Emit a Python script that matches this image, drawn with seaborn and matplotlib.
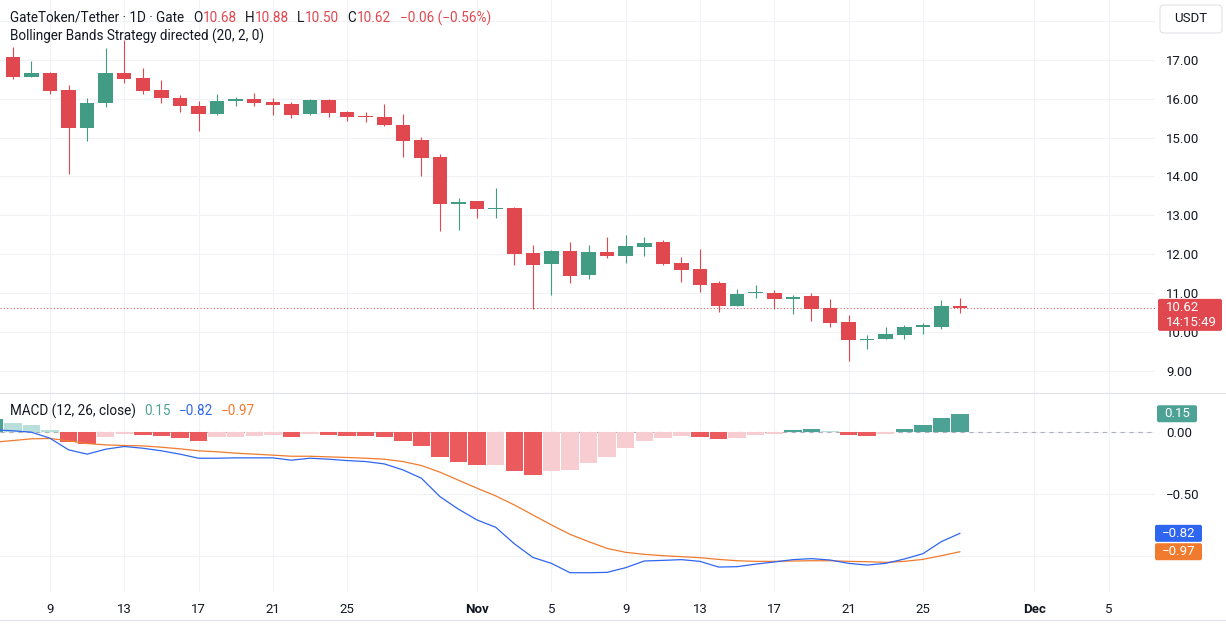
import numpy as np
import pandas as pd
import matplotlib
matplotlib.use("Agg")
import matplotlib.pyplot as plt
import matplotlib.dates as mdates
import matplotlib.transforms as mtransforms
from matplotlib.patches import FancyBboxPatch
from matplotlib.lines import Line2D
from matplotlib.ticker import FuncFormatter
import seaborn as sns

# ---- daily candles GT/USDT, Oct 7 .. Nov 27 ----
candle_dates = pd.date_range("2025-10-07", "2025-11-27", freq="D")
opens = [17.07, 16.57, 16.66, 16.23, 15.26, 15.88, 16.67, 16.53, 16.23, 16.02,
         15.82, 15.61, 15.94, 15.99, 15.92, 15.87, 15.60, 15.97, 15.67, 15.56,
         15.54, 15.33, 14.94, 14.50, 13.29, 13.37, 13.16, 13.18, 12.02, 11.76,
         12.08, 11.46, 12.06, 11.96, 12.19, 12.31, 11.77, 11.62, 11.25, 10.68,
         11.00, 11.01, 10.86, 10.93, 10.61, 10.26, 9.80, 9.81, 9.92, 10.14,
         10.13, 10.68]
highs = [17.34, 16.98, 16.68, 16.36, 16.03, 17.30, 17.52, 16.79, 16.48, 16.10,
         15.94, 16.12, 16.04, 16.16, 16.02, 15.91, 16.00, 16.00, 15.69, 15.67,
         15.87, 15.60, 15.01, 14.57, 13.44, 13.37, 13.71, 13.21, 12.23, 12.11,
         12.32, 12.23, 12.44, 12.50, 12.44, 12.37, 11.92, 12.14, 11.32, 11.10,
         11.21, 11.08, 10.96, 11.00, 10.85, 10.44, 9.91, 10.12, 10.19, 10.22,
         10.82, 10.88]
lows = [16.50, 16.55, 16.12, 14.07, 14.92, 15.78, 16.40, 16.12, 15.88, 15.67,
        15.18, 15.58, 15.82, 15.82, 15.58, 15.51, 15.57, 15.54, 15.44, 15.41,
        15.30, 14.50, 14.02, 12.61, 12.62, 12.92, 12.92, 11.73, 10.60, 10.95,
        11.27, 11.37, 11.91, 11.77, 11.96, 11.73, 11.28, 11.03, 10.52, 10.68,
        10.88, 10.59, 10.45, 10.29, 10.12, 9.25, 9.57, 9.81, 9.83, 9.95,
        10.08, 10.50]
closes = [16.57, 16.66, 16.21, 15.26, 15.89, 16.67, 16.52, 16.21, 16.01, 15.82,
          15.61, 15.94, 16.00, 15.90, 15.85, 15.59, 15.97, 15.63, 15.54, 15.53,
          15.32, 14.92, 14.48, 13.29, 13.35, 13.16, 13.18, 12.00, 11.73, 12.08,
          11.44, 12.06, 11.96, 12.21, 12.30, 11.75, 11.59, 11.21, 10.68, 10.98,
          11.02, 10.86, 10.91, 10.58, 10.24, 9.79, 9.83, 9.94, 10.14, 10.18,
          10.68, 10.62]

# ---- MACD (12, 26, close), Oct 6 .. Nov 27 ----
macd_dates = pd.date_range("2025-10-06", "2025-11-27", freq="D")
macd_line = [0.019, 0.011, 0.000, -0.049, -0.143, -0.178, -0.138, -0.116, -0.130, -0.151,
             -0.178, -0.211, -0.211, -0.208, -0.208, -0.208, -0.227, -0.211, -0.219, -0.230,
             -0.238, -0.257, -0.305, -0.373, -0.522, -0.624, -0.711, -0.770, -0.903, -1.014,
             -1.062, -1.138, -1.138, -1.135, -1.097, -1.043, -1.038, -1.032, -1.046, -1.092,
             -1.089, -1.068, -1.051, -1.032, -1.024, -1.035, -1.062, -1.076, -1.062, -1.027,
             -0.984, -0.886, -0.819]
signal_line = [-0.081, -0.068, -0.054, -0.051, -0.070, -0.092, -0.103, -0.108, -0.111, -0.122,
               -0.135, -0.151, -0.159, -0.170, -0.178, -0.186, -0.195, -0.195, -0.200, -0.205,
               -0.211, -0.219, -0.238, -0.270, -0.324, -0.389, -0.454, -0.516, -0.589, -0.670,
               -0.751, -0.827, -0.886, -0.941, -0.973, -0.989, -1.000, -1.008, -1.016, -1.030,
               -1.041, -1.046, -1.046, -1.043, -1.041, -1.041, -1.046, -1.049, -1.054, -1.046,
               -1.030, -1.000, -0.968]
histogram = [0.105, 0.073, 0.054, 0.016, -0.076, -0.095, -0.041, -0.014, -0.019, -0.035,
             -0.049, -0.068, -0.041, -0.038, -0.032, -0.024, -0.041, -0.016, -0.027, -0.028,
             -0.035, -0.041, -0.068, -0.111, -0.203, -0.243, -0.265, -0.262, -0.314, -0.343,
             -0.311, -0.309, -0.251, -0.200, -0.132, -0.070, -0.046, -0.032, -0.041, -0.059,
             -0.046, -0.027, -0.011, 0.019, 0.024, 0.011, -0.027, -0.029, -0.011, 0.027,
             0.059, 0.114, 0.149]

tick_dates = pd.to_datetime(["2025-10-09", "2025-10-13", "2025-10-17", "2025-10-21",
                             "2025-10-25", "2025-11-01", "2025-11-05", "2025-11-09",
                             "2025-11-13", "2025-11-17", "2025-11-21", "2025-11-25",
                             "2025-12-01", "2025-12-05"])
tick_labels = ["9", "13", "17", "21", "25", "Nov", "5", "9", "13", "17", "21", "25", "Dec", "5"]

# price levels with a label, and levels that keep only a grid line (label hidden behind a tag)
price_ticks = [9, 10, 11, 12, 13, 14, 15, 16, 17]
price_grid_only = [18]
macd_ticks = [-0.5, 0.0]
macd_grid_only = [-1.0]

UP = "#429B83"
DOWN = "#E0474F"
H_UP, H_UP_FADE = "#4DA296", "#B9DFDA"
H_DN, H_DN_FADE = "#EB5A5C", "#F7CDD1"
BLUE = "#2F66F0"
ORANGE = "#F07B2E"
TEXT = "#131722"
GRID = "#F0F2F6"

sns.set_theme(style="white")
plt.rcParams["font.family"] = ["Roboto", "DejaVu Sans"]

W, H = 1226, 624
fig = plt.figure(figsize=(W / 100, H / 100), dpi=100)
fig.patch.set_facecolor("white")
PX = mtransforms.Affine2D().scale(1 / W, -1 / H).translate(0, 1) + fig.transFigure

PANE_R, PRICE_BOT, MACD_BOT = 1155, 393, 592
ax_p = fig.add_axes([0, 1 - PRICE_BOT / H, PANE_R / W, PRICE_BOT / H])
ax_m = fig.add_axes([0, 1 - MACD_BOT / H, PANE_R / W, (MACD_BOT - PRICE_BOT) / H], sharex=ax_p)

# ---- candles ----
cx = mdates.date2num(candle_dates)
o, hi, lo, c = map(np.array, (opens, highs, lows, closes))
ccol = np.where(c >= o, UP, DOWN)
ax_p.vlines(cx, lo, hi, colors=ccol, lw=0.8, zorder=3)
ax_p.bar(cx, np.maximum(np.abs(c - o), 0.03), bottom=np.minimum(o, c),
         width=0.78, color=ccol, linewidth=0, zorder=4)
ax_p.axhline(c[-1], color=DOWN, lw=0.8, ls=(0, (1, 2)), alpha=0.85, zorder=2)

# ---- MACD ----
mx = mdates.date2num(macd_dates)
hist = np.array(histogram)
prev = np.r_[-np.inf, hist[:-1]]
hcol = np.where(hist >= 0, np.where(hist > prev, H_UP, H_UP_FADE),
                np.where(hist < prev, H_DN, H_DN_FADE))
ax_m.axhline(0, color="#9598A1", lw=0.8, ls=(0, (4, 4)), alpha=0.7, zorder=1)
ax_m.bar(mx, hist, width=0.94, color=hcol, linewidth=0, zorder=2)
macd_df = pd.DataFrame({"x": mx, "macd": macd_line, "signal": signal_line})
sns.lineplot(data=macd_df, x="x", y="signal", ax=ax_m, color=ORANGE, lw=0.9, zorder=3)
sns.lineplot(data=macd_df, x="x", y="macd", ax=ax_m, color=BLUE, lw=0.9, zorder=4)

# ---- axes styling ----
x0 = mdates.date2num(pd.Timestamp("2025-10-07"))
ax_p.set_xlim(x0 - 0.69, x0 + 61.5)
ax_p.set_ylim(8.43, 18.54)
ax_m.set_ylim(-1.294, 0.317)
ax_p.set_yticks(price_ticks)
ax_m.set_yticks(macd_ticks)
for v in price_grid_only:
    ax_p.axhline(v, color=GRID, lw=0.8, zorder=0)
for v in macd_grid_only:
    ax_m.axhline(v, color=GRID, lw=0.8, zorder=0)
ax_p.yaxis.set_major_formatter(FuncFormatter(lambda v, _: f"{v:.2f}"))
ax_m.yaxis.set_major_formatter(
    FuncFormatter(lambda v, _: "0.00" if abs(v) < 1e-9 else f"{v:.2f}".replace("-", "\u2212")))
ax_m.set_xticks(mdates.date2num(tick_dates))
ax_m.set_xticklabels(tick_labels)
for ax in (ax_p, ax_m):
    ax.set_facecolor("white")
    for s in ax.spines.values():
        s.set_visible(False)
    ax.grid(True, color=GRID, lw=0.8)
    ax.set_axisbelow(True)
    ax.yaxis.tick_right()
    ax.tick_params(axis="y", length=0, pad=8, labelsize=9.5, labelcolor=TEXT)
    ax.set_xlabel("")
    ax.set_ylabel("")
ax_p.tick_params(axis="x", length=0, labelbottom=False)
ax_m.tick_params(axis="x", length=0, pad=8, labelsize=9.5, labelcolor=TEXT)
for lbl in ax_m.get_xticklabels():
    if lbl.get_text() in ("Nov", "Dec"):
        lbl.set_fontweight("bold")

# pane separators
for yy in (PRICE_BOT, 620):
    fig.add_artist(Line2D([0, W], [yy, yy], transform=PX, color="#E0E3EB", lw=0.8))


def val_px(ax, v):
    return H - ax.transData.transform((0, v))[1]


def tag(x_a, x_b, y_a, y_b, color, zorder=10):
    fig.add_artist(FancyBboxPatch((x_a, y_a), x_b - x_a, y_b - y_a,
                                  boxstyle="round,pad=0,rounding_size=2", transform=PX,
                                  fc=color, ec="none", zorder=zorder))


# USDT box
fig.add_artist(FancyBboxPatch((1160, 5), 62, 28, boxstyle="round,pad=0,rounding_size=4",
                              transform=PX, fc="white", ec="#E0E3EB", lw=0.8, zorder=10))
fig.text(1191, 19, "USDT", transform=PX, ha="center", va="center", fontsize=9.5,
         color=TEXT, zorder=11)

# last price tag
yc = val_px(ax_p, c[-1])
tag(1158, 1222, yc - 9, yc + 23, DOWN)
fig.text(1166, yc, f"{c[-1]:.2f}", transform=PX, ha="left", va="center",
         fontsize=9.5, color="white", zorder=11)
fig.text(1166, yc + 15, "14:15:49", transform=PX, ha="left", va="center",
         fontsize=9.5, color="white", zorder=11)

# MACD tags
for val, col, xa, xb in ((hist[-1], H_UP, 1157, 1197),
                         (macd_line[-1], BLUE, 1155, 1202),
                         (signal_line[-1], ORANGE, 1155, 1202)):
    yv = val_px(ax_m, val)
    if col == ORANGE:
        yv = max(yv, val_px(ax_m, macd_line[-1]) + 17)
    tag(xa, xb, yv - 8.5, yv + 8.5, col)
    fig.text((xa + xb) / 2, yv, f"{val:.2f}".replace("-", "\u2212"), transform=PX,
             ha="center", va="center", fontsize=9.5, color="white", zorder=11)

# legend rows
renderer = fig.canvas.get_renderer()


def put_row(x_px, y_px, parts, size=9.75):
    for txt, col, gap in parts:
        t = fig.text(x_px, y_px, txt, transform=PX, color=col, fontsize=size,
                     ha="left", va="center")
        x_px += t.get_window_extent(renderer).width + gap


chg = c[-1] - c[-2]
put_row(10, 18, [("GateToken/Tether \u00b7 1D \u00b7 Gate", TEXT, 9),
                 ("O", TEXT, 0.5), (f"{o[-1]:.2f}", DOWN, 8),
                 ("H", TEXT, 0.5), (f"{hi[-1]:.2f}", DOWN, 8),
                 ("L", TEXT, 0.5), (f"{lo[-1]:.2f}", DOWN, 8),
                 ("C", TEXT, 0.5), (f"{c[-1]:.2f}", DOWN, 9),
                 (f"{chg:+.2f} ({chg / c[-2] * 100:+.2f}%)".replace("-", "\u2212"), DOWN, 0)])
put_row(10, 36, [("Bollinger Bands Strategy directed (20, 2, 0)", TEXT, 0)])
put_row(10, 411, [("MACD (12, 26, close)", TEXT, 8),
                  (f"{hist[-1]:.2f}", H_UP, 8),
                  (f"{macd_line[-1]:.2f}".replace("-", "\u2212"), BLUE, 8),
                  (f"{signal_line[-1]:.2f}".replace("-", "\u2212"), ORANGE, 0)])

fig.savefig("out.png", dpi=100)
